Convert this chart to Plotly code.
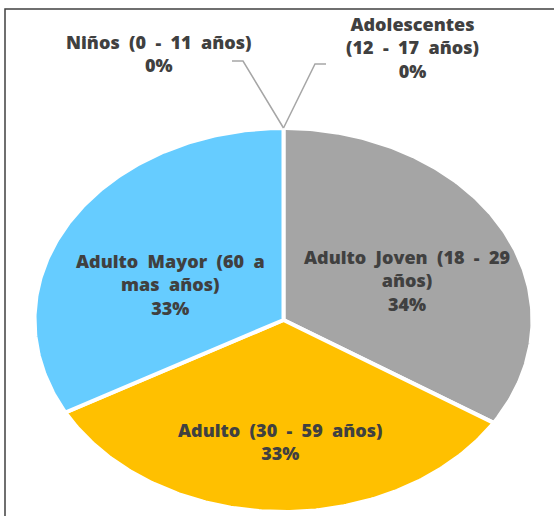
import numpy as np
import plotly.graph_objects as go

# Población por grupo de edad (porcentaje)
categories = [
    "Niños (0 - 11 años)",
    "Adolescentes (12 - 17 años)",
    "Adulto Joven (18 - 29 años)",
    "Adulto (30 - 59 años)",
    "Adulto Mayor (60 a mas años)",
]
values = [0, 0, 34, 33, 33]
label_lines = [
    ["Niños (0 - 11 años)"],
    ["Adolescentes", "(12 - 17 años)"],
    ["Adulto Joven (18 - 29", "años)"],
    ["Adulto (30 - 59 años)"],
    ["Adulto Mayor (60 a", "mas años)"],
]
colors = ["#5B9BD5", "#ED7D31", "#A5A5A5", "#FFC000", "#66CCFF"]

W, H = 554, 516
CX, CY, RX, RY = 283.5, 320, 249, 192
TEXT_COLOR = "#404040"
FONT = "Open Sans"
FONT_SIZE = 18

total = float(sum(values))
fracs = [v / total for v in values]
cum = np.concatenate([[0.0], np.cumsum(fracs)])


def ell(t):
    # clockwise from 12 o'clock, screen coordinates (y grows downward)
    return CX + RX * np.sin(t), CY - RY * np.cos(t)


def wide(s):
    # wider word spacing
    return s.replace(" ", " \u00a0")


fig = go.Figure()

for i, f in enumerate(fracs):
    if f <= 0:
        continue
    t = np.linspace(cum[i] * 2 * np.pi, cum[i + 1] * 2 * np.pi, 200)
    ex, ey = ell(t)
    xs = np.concatenate([[CX], ex, [CX]])
    ys = np.concatenate([[CY], ey, [CY]])
    fig.add_trace(go.Scatter(
        x=xs, y=ys, mode="lines", fill="toself", fillcolor=colors[i],
        line=dict(color="white", width=4), hoverinfo="text",
        text=f"{categories[i]}: {round(f * 100)}%", showlegend=False,
    ))

# label positions (center of text block) and leader-line elbows
label_pos = [(158, 53), (412, 47), (407, 280), (280, 441), (170, 284)]
leaders = {0: [(232, 61), (243, 61)], 1: [(326, 64), (315, 64)]}

for i, (lx, ly) in enumerate(label_pos):
    lines = [wide(s) for s in label_lines[i]] + [f"{round(fracs[i] * 100)}%"]
    fig.add_annotation(
        x=lx, y=ly, text="<br>".join(lines), showarrow=False,
        xanchor="center", yanchor="middle", align="center",
        font=dict(family=FONT, size=FONT_SIZE, color=TEXT_COLOR, weight=800),
    )

for i, pts in leaders.items():
    mid = (cum[i] + cum[i + 1]) * np.pi
    px, py = ell(mid)
    (x0, y0), (x1, y1) = pts
    fig.add_shape(
        type="path", path=f"M {x0},{y0} L {x1},{y1} L {px},{py}",
        line=dict(color="#A6A6A6", width=1.5), xref="x", yref="y",
    )

# chart frame
fig.add_shape(type="rect", x0=5, y0=9, x1=W + 10, y1=H + 10, xref="x", yref="y",
              line=dict(color="#404040", width=1.5), layer="above")

fig.update_xaxes(range=[0, W], visible=False, fixedrange=True)
fig.update_yaxes(range=[H, 0], visible=False, fixedrange=True)
fig.update_layout(
    width=W, height=H, margin=dict(l=0, r=0, t=0, b=0),
    paper_bgcolor="white", plot_bgcolor="white",
)

fig.write_html("out.html")
